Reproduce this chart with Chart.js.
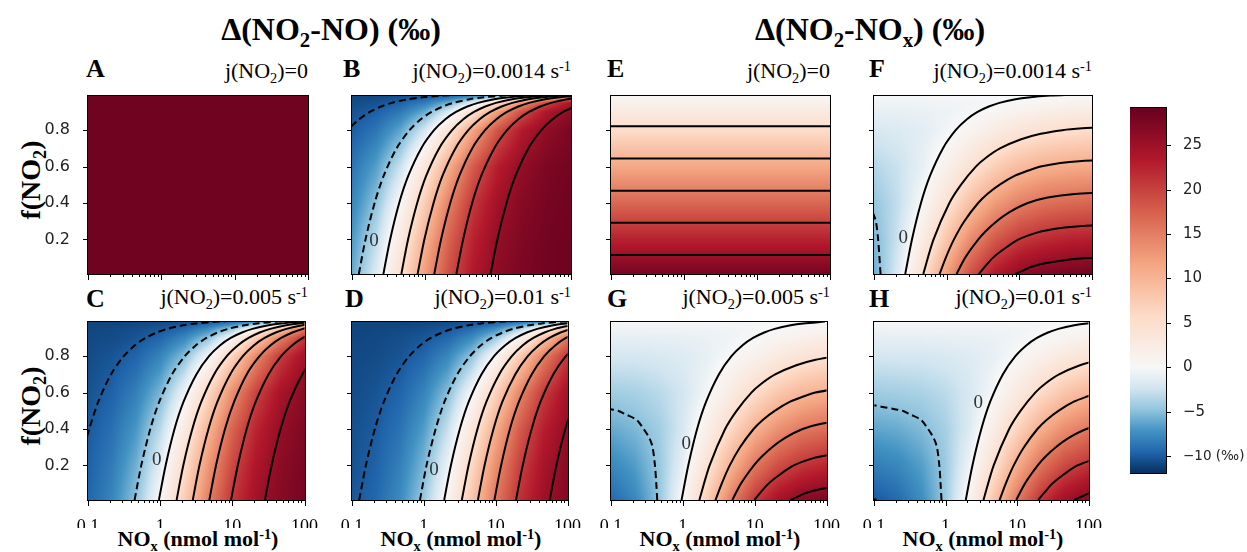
<!DOCTYPE html>
<html>
<head>
<meta charset="utf-8">
<script src="https://cdn.jsdelivr.net/npm/chart.js@4.4.1/dist/chart.umd.min.js"></script>
<style>
  body { margin: 0; background: #fff; }
  #fig { position: relative; width: 1247px; height: 552px; overflow: hidden; font-family: 'Liberation Serif', 'Times New Roman', serif; color: #000; }
  #fig canvas { position: absolute; }
  .t { position: absolute; white-space: nowrap; line-height: 1; }
  .ttl { font-size: 32px; font-weight: bold; transform: translateX(-50%); }
  .let { font-size: 26px; font-weight: bold; }
  .jt { font-size: 22px; }
  .xl { font-size: 22px; font-weight: bold; transform: translateX(-50%); }
  .yl { font-size: 28px; font-weight: bold; transform: translate(-50%, -50%) rotate(-90deg); }
  .sb { font-size: 65%; position: relative; top: 0.32em; }
  .sp { font-size: 65%; position: relative; top: -0.5em; }
</style>
</head>
<body>
<div id="fig">
  <div class="t ttl" style="left:331px;top:13px">Δ(NO<span class="sb">2</span>-NO) (‰)</div>
  <div class="t ttl" style="left:870px;top:13px">Δ(NO<span class="sb">2</span>-NO<span class="sb">x</span>) (‰)</div>

  <div class="t let" style="left:86px;top:56px">A</div>
  <div class="t let" style="left:343px;top:56px">B</div>
  <div class="t let" style="left:607px;top:56px">E</div>
  <div class="t let" style="left:869px;top:56px">F</div>
  <div class="t let" style="left:86px;top:286px">C</div>
  <div class="t let" style="left:345px;top:286px">D</div>
  <div class="t let" style="left:607px;top:286px">G</div>
  <div class="t let" style="left:869px;top:286px">H</div>

  <div class="t jt" style="right:939px;top:60px">j(NO<span class="sb">2</span>)=0</div>
  <div class="t jt" style="right:676px;top:60px">j(NO<span class="sb">2</span>)=0.0014 s<span class="sp">-1</span></div>
  <div class="t jt" style="right:417px;top:60px">j(NO<span class="sb">2</span>)=0</div>
  <div class="t jt" style="right:155px;top:60px">j(NO<span class="sb">2</span>)=0.0014 s<span class="sp">-1</span></div>
  <div class="t jt" style="right:939px;top:286px">j(NO<span class="sb">2</span>)=0.005 s<span class="sp">-1</span></div>
  <div class="t jt" style="right:676px;top:286px">j(NO<span class="sb">2</span>)=0.01 s<span class="sp">-1</span></div>
  <div class="t jt" style="right:417px;top:286px">j(NO<span class="sb">2</span>)=0.005 s<span class="sp">-1</span></div>
  <div class="t jt" style="right:155px;top:286px">j(NO<span class="sb">2</span>)=0.01 s<span class="sp">-1</span></div>

  <div class="t yl" style="left:31px;top:180px">f(NO<span class="sb">2</span>)</div>
  <div class="t yl" style="left:31px;top:406px">f(NO<span class="sb">2</span>)</div>

  <div class="t xl" style="left:198px;top:528px">NO<span class="sb">x</span> (nmol mol<span class="sp">-1</span>)</div>
  <div class="t xl" style="left:461px;top:528px">NO<span class="sb">x</span> (nmol mol<span class="sp">-1</span>)</div>
  <div class="t xl" style="left:720px;top:528px">NO<span class="sb">x</span> (nmol mol<span class="sp">-1</span>)</div>
  <div class="t xl" style="left:983px;top:528px">NO<span class="sb">x</span> (nmol mol<span class="sp">-1</span>)</div>
</div>
<script>
// field grid: columns = NOx (nmol/mol), rows = f(NO2)
const xCols = [0.1, 0.215, 0.464, 1, 2.15, 4.64, 10, 21.5, 46.4, 100];
const fRows = [0.01, 0.2, 0.4, 0.6, 0.8, 0.9, 0.95, 0.99];

// panel A is flat, panel E only changes with f
const valueA = 28.5;
const rowsE = [27.9, 22.6, 16.9, 11.3, 5.6, 2.8, 1.4, 0.3];

const gridB = [
  [-6.1, -1.7, 4.8, 12.4, 19.0, 23.6, 26.3, 27.6, 28.3, 28.6],
  [-6.9, -3.1, 2.8, 10.3, 17.4, 22.6, 25.7, 27.3, 28.2, 28.6],
  [-7.9, -4.8, 0.4, 7.4, 14.9, 20.9, 24.7, 26.8, 27.9, 28.4],
  [-8.8, -6.6, -2.6, 3.5, 11.0, 18.0, 23.0, 25.9, 27.5, 28.2],
  [-9.9, -8.7, -6.3, -2.1, 4.2, 11.8, 18.6, 23.3, 26.1, 27.6],
  [-10.4, -9.8, -8.5, -6.0, -1.6, 4.9, 12.5, 19.1, 23.7, 26.3],
  [-10.7, -10.4, -9.7, -8.3, -5.7, -1.1, 5.6, 13.2, 19.6, 24.0],
  [-10.9, -10.9, -10.7, -10.4, -9.8, -8.5, -6.0, -1.6, 4.9, 12.5]
];
const gridC = [
  [-9.5, -7.9, -4.8, 0.3, 7.3, 14.8, 20.9, 24.7, 26.8, 27.9],
  [-9.8, -8.4, -5.8, -1.3, 5.3, 12.8, 19.4, 23.8, 26.4, 27.7],
  [-10.1, -9.0, -7.0, -3.3, 2.6, 10.0, 17.2, 22.4, 25.6, 27.3],
  [-10.4, -9.7, -8.2, -5.5, -0.8, 6.0, 13.6, 19.9, 24.2, 26.6],
  [-10.7, -10.3, -9.6, -8.0, -5.1, -0.2, 6.7, 14.2, 20.4, 24.5],
  [-10.8, -10.7, -10.3, -9.5, -7.8, -4.8, 0.4, 7.5, 14.9, 20.9],
  [-10.9, -10.8, -10.6, -10.2, -9.4, -7.6, -4.4, 1.0, 8.2, 15.6],
  [-11.0, -11.0, -10.9, -10.8, -10.7, -10.3, -9.5, -7.8, -4.8, 0.4]
];
const gridD = [
  [-10.2, -9.4, -7.6, -4.4, 0.9, 8.1, 15.5, 21.3, 25.0, 27.0],
  [-10.4, -9.7, -8.2, -5.5, -0.8, 6.0, 13.6, 19.9, 24.2, 26.6],
  [-10.5, -10.0, -8.9, -6.7, -2.8, 3.3, 10.8, 17.8, 22.8, 25.8],
  [-10.7, -10.3, -9.6, -8.0, -5.1, -0.2, 6.7, 14.2, 20.4, 24.5],
  [-10.8, -10.7, -10.3, -9.5, -7.8, -4.8, 0.4, 7.5, 14.9, 20.9],
  [-10.9, -10.8, -10.6, -10.2, -9.4, -7.6, -4.4, 1.0, 8.2, 15.6],
  [-11.0, -10.9, -10.8, -10.6, -10.2, -9.2, -7.4, -3.9, 1.7, 9.0],
  [-11.0, -11.0, -11.0, -10.9, -10.8, -10.6, -10.2, -9.4, -7.6, -4.4]
];
const gridF = [
  [-6.0, -1.7, 4.8, 12.2, 18.8, 23.4, 26.0, 27.4, 28.0, 28.3],
  [-5.5, -2.5, 2.2, 8.2, 13.9, 18.1, 20.6, 21.8, 22.6, 22.9],
  [-4.7, -2.9, 0.2, 4.4, 8.9, 12.5, 14.8, 16.1, 16.7, 17.0],
  [-3.5, -2.6, -1.0, 1.4, 4.4, 7.2, 9.2, 10.4, 11.0, 11.3],
  [-2.0, -1.7, -1.3, -0.4, 0.8, 2.4, 3.7, 4.7, 5.2, 5.5],
  [-1.0, -1.0, -0.9, -0.6, -0.2, 0.5, 1.3, 1.9, 2.4, 2.6],
  [-0.5, -0.5, -0.5, -0.4, -0.3, -0.1, 0.3, 0.7, 1.0, 1.2],
  [-0.1, -0.1, -0.1, -0.1, -0.1, -0.1, -0.1, 0.0, 0.0, 0.1]
];
const gridG = [
  [-9.4, -7.8, -4.8, 0.3, 7.2, 14.7, 20.7, 24.5, 26.5, 27.6],
  [-7.8, -6.7, -4.6, -1.0, 4.2, 10.2, 15.5, 19.0, 21.1, 22.2],
  [-6.1, -5.4, -4.2, -2.0, 1.6, 6.0, 10.3, 13.4, 15.4, 16.4],
  [-4.2, -3.9, -3.3, -2.2, -0.3, 2.4, 5.4, 8.0, 9.7, 10.6],
  [-2.1, -2.1, -1.9, -1.6, -1.0, 0.0, 1.3, 2.8, 4.1, 4.9],
  [-1.1, -1.1, -1.0, -1.0, -0.8, -0.5, 0.0, 0.8, 1.5, 2.1],
  [-0.5, -0.5, -0.5, -0.5, -0.5, -0.4, -0.2, 0.1, 0.4, 0.8],
  [-0.1, -0.1, -0.1, -0.1, -0.1, -0.1, -0.1, -0.1, 0.0, 0.0]
];
const gridH = [
  [-10.1, -9.3, -7.5, -4.4, 0.9, 8.0, 15.3, 21.1, 24.8, 26.7],
  [-8.3, -7.8, -6.6, -4.4, -0.6, 4.8, 10.9, 15.9, 19.4, 21.3],
  [-6.3, -6.0, -5.3, -4.0, -1.7, 2.0, 6.5, 10.7, 13.7, 15.5],
  [-4.3, -4.1, -3.8, -3.2, -2.0, -0.1, 2.7, 5.7, 8.2, 9.8],
  [-2.2, -2.1, -2.1, -1.9, -1.6, -1.0, 0.1, 1.5, 3.0, 4.2],
  [-1.1, -1.1, -1.1, -1.0, -0.9, -0.8, -0.4, 0.1, 0.8, 1.6],
  [-0.6, -0.5, -0.5, -0.5, -0.5, -0.5, -0.4, -0.2, 0.1, 0.5],
  [-0.1, -0.1, -0.1, -0.1, -0.1, -0.1, -0.1, -0.1, -0.1, 0.0]
];

// contour lines: [level, [[NOx, f], ...]]
const contB = [
  [-10, [[0.097,0.82],[0.125,0.86],[0.175,0.9],[0.25,0.93],[0.35,0.95],[0.583,0.97],[0.875,0.98],[1.75,0.99],[3.5,0.995],[8.75,0.998]]],
  [-5, [[0.124,0.01],[0.153,0.2],[0.204,0.4],[0.272,0.55],[0.408,0.7],[0.613,0.8],[0.875,0.86],[1.23,0.9],[1.75,0.93],[2.45,0.95],[4.08,0.97],[6.13,0.98],[12.3,0.99],[24.5,0.995],[61,0.998]]],
  [0, [[0.269,0.01],[0.333,0.2],[0.443,0.4],[0.591,0.55],[0.887,0.7],[1.33,0.8],[1.9,0.86],[2.66,0.9],[3.8,0.93],[5.32,0.95],[8.87,0.97],[13.3,0.98],[26.6,0.99],[53.2,0.995],[133,0.998]]],
  [5, [[0.474,0.01],[0.586,0.2],[0.782,0.4],[1.04,0.55],[1.56,0.7],[2.35,0.8],[3.35,0.86],[4.69,0.9],[6.7,0.93],[9.38,0.95],[15.6,0.97],[23.5,0.98],[46.9,0.99],[93.8,0.995],[234,0.998]]],
  [10, [[0.792,0.01],[0.98,0.2],[1.31,0.4],[1.74,0.55],[2.61,0.7],[3.92,0.8],[5.6,0.86],[7.84,0.9],[11.2,0.93],[15.7,0.95],[26.1,0.97],[39.2,0.98],[78.4,0.99],[157,0.995]]],
  [15, [[1.34,0.01],[1.66,0.2],[2.22,0.4],[2.96,0.55],[4.43,0.7],[6.65,0.8],[9.5,0.86],[13.3,0.9],[19,0.93],[26.6,0.95],[44.3,0.97],[66.5,0.98],[133,0.99]]],
  [20, [[2.69,0.01],[3.33,0.2],[4.43,0.4],[5.91,0.55],[8.87,0.7],[13.3,0.8],[19,0.86],[26.6,0.9],[38,0.93],[53.2,0.95],[88.7,0.97],[133,0.98]]],
  [25, [[7.92,0.01],[9.8,0.2],[13.1,0.4],[17.4,0.55],[26.1,0.7],[39.2,0.8],[56,0.86],[78.4,0.9],[112,0.93]]]
];
const contC = [
  [-10, [[0.089,0.3],[0.104,0.4],[0.139,0.55],[0.208,0.7],[0.313,0.8],[0.446,0.86],[0.625,0.9],[0.893,0.93],[1.25,0.95],[2.08,0.97],[3.13,0.98],[6.25,0.99],[12.5,0.995],[31,0.998]]],
  [-5, [[0.442,0.01],[0.547,0.2],[0.729,0.4],[0.972,0.55],[1.46,0.7],[2.19,0.8],[3.13,0.86],[4.38,0.9],[6.25,0.93],[8.75,0.95],[14.6,0.97],[21.9,0.98],[43.8,0.99],[87.5,0.995],[219,0.998]]],
  [0, [[0.96,0.01],[1.19,0.2],[1.58,0.4],[2.11,0.55],[3.17,0.7],[4.75,0.8],[6.79,0.86],[9.5,0.9],[13.6,0.93],[19,0.95],[31.7,0.97],[47.5,0.98],[95,0.99],[190,0.995]]],
  [5, [[1.69,0.01],[2.09,0.2],[2.79,0.4],[3.72,0.55],[5.58,0.7],[8.38,0.8],[12,0.86],[16.8,0.9],[23.9,0.93],[33.5,0.95],[55.8,0.97],[83.8,0.98],[168,0.99]]],
  [10, [[2.83,0.01],[3.5,0.2],[4.67,0.4],[6.22,0.55],[9.33,0.7],[14,0.8],[20,0.86],[28,0.9],[40,0.93],[56,0.95],[93.3,0.97],[140,0.98]]],
  [15, [[4.8,0.01],[5.94,0.2],[7.92,0.4],[10.6,0.55],[15.8,0.7],[23.8,0.8],[33.9,0.86],[47.5,0.9],[67.9,0.93],[95,0.95],[158,0.97]]],
  [20, [[9.6,0.01],[11.9,0.2],[15.8,0.4],[21.1,0.55],[31.7,0.7],[47.5,0.8],[67.9,0.86],[95,0.9],[136,0.93]]],
  [25, [[28.3,0.01],[35,0.2],[46.7,0.4],[62.2,0.55],[93.3,0.7],[140,0.8]]]
];
const contD = [
  [-10, [[0.126,0.01],[0.156,0.2],[0.208,0.4],[0.278,0.55],[0.417,0.7],[0.625,0.8],[0.893,0.86],[1.25,0.9],[1.79,0.93],[2.5,0.95],[4.17,0.97],[6.25,0.98],[12.5,0.99],[25,0.995],[62.5,0.998]]],
  [-5, [[0.884,0.01],[1.09,0.2],[1.46,0.4],[1.94,0.55],[2.92,0.7],[4.38,0.8],[6.25,0.86],[8.75,0.9],[12.5,0.93],[17.5,0.95],[29.2,0.97],[43.8,0.98],[87.5,0.99],[175,0.995]]],
  [0, [[1.92,0.01],[2.38,0.2],[3.17,0.4],[4.22,0.55],[6.33,0.7],[9.5,0.8],[13.6,0.86],[19,0.9],[27.1,0.93],[38,0.95],[63.3,0.97],[95,0.98],[190,0.99]]],
  [5, [[3.38,0.01],[4.19,0.2],[5.58,0.4],[7.44,0.55],[11.2,0.7],[16.8,0.8],[23.9,0.86],[33.5,0.9],[47.9,0.93],[67,0.95],[112,0.97]]],
  [10, [[5.66,0.01],[7,0.2],[9.33,0.4],[12.4,0.55],[18.7,0.7],[28,0.8],[40,0.86],[56,0.9],[80,0.93],[112,0.95]]],
  [15, [[9.6,0.01],[11.9,0.2],[15.8,0.4],[21.1,0.55],[31.7,0.7],[47.5,0.8],[67.9,0.86],[95,0.9],[136,0.93]]],
  [20, [[19.2,0.01],[23.8,0.2],[31.7,0.4],[42.2,0.55],[63.3,0.7],[95,0.8],[136,0.86]]],
  [25, [[56.6,0.01],[70,0.2],[93.3,0.4],[124,0.55]]]
];
const contE = [
  [5, [[0.1,0.822],[100,0.822]]],
  [10, [[0.1,0.645],[100,0.645]]],
  [15, [[0.1,0.468],[100,0.468]]],
  [20, [[0.1,0.291],[100,0.291]]],
  [25, [[0.1,0.115],[100,0.115]]]
];
const contF = [
  [-5, [[0.123,0.01],[0.114,0.2],[0.106,0.3],[0.0957,0.35]]],
  [0, [[0.269,0.01],[0.333,0.2],[0.443,0.4],[0.591,0.55],[0.887,0.7],[1.33,0.8],[1.9,0.86],[2.66,0.9],[3.8,0.93],[5.32,0.95],[8.87,0.97],[13.3,0.98],[26.6,0.99],[53.2,0.995]]],
  [5, [[0.477,0.01],[0.66,0.2],[1.09,0.4],[1.57,0.5],[2.52,0.6],[3.51,0.65],[5.42,0.7],[10.6,0.75],[19.7,0.78],[39.2,0.8],[73.7,0.81],[132,0.815]]],
  [10, [[0.8,0.01],[0.974,0.1],[1.26,0.2],[1.75,0.3],[2.71,0.4],[3.63,0.45],[5.32,0.5],[8.73,0.55],[13.7,0.58],[19.6,0.6],[36.8,0.62],[66.2,0.63],[301,0.64]]],
  [15, [[1.37,0.01],[1.8,0.1],[2.73,0.2],[3.55,0.25],[4.89,0.3],[7.32,0.35],[13.1,0.4],[24.6,0.43],[57.9,0.45],[201,0.46]]],
  [20, [[2.78,0.01],[3.37,0.05],[4.36,0.1],[6.29,0.15],[9.8,0.2],[18.4,0.24],[33.1,0.26],[55.3,0.27],[151,0.28]]],
  [25, [[8.85,0.01],[11.4,0.03],[14.7,0.05],[23.6,0.07],[50,0.09],[120,0.1]]]
];
const contG = [
  [-5, [[0.44,0.01],[0.427,0.1],[0.409,0.2],[0.379,0.3],[0.342,0.35],[0.285,0.4],[0.228,0.45],[0.161,0.48],[0.125,0.5],[0.094,0.51]]],
  [0, [[0.96,0.01],[1.19,0.2],[1.58,0.4],[2.11,0.55],[3.17,0.7],[4.75,0.8],[6.79,0.86],[9.5,0.9],[13.6,0.93],[19,0.95],[31.7,0.97],[47.5,0.98],[95,0.99]]],
  [5, [[1.7,0.01],[2.36,0.2],[3.88,0.4],[5.6,0.5],[9,0.6],[12.5,0.65],[19.3,0.7],[38,0.75],[70.5,0.78],[140,0.8]]],
  [10, [[2.85,0.01],[3.48,0.1],[4.5,0.2],[6.26,0.3],[9.67,0.4],[12.95,0.45],[19,0.5],[31.2,0.55],[48.9,0.58],[70,0.6],[132,0.62]]],
  [15, [[4.89,0.01],[6.44,0.1],[9.75,0.2],[12.7,0.25],[17.5,0.3],[26.2,0.35],[46.7,0.4],[87.7,0.43],[207,0.45]]],
  [20, [[9.92,0.01],[12,0.05],[15.6,0.1],[22.5,0.15],[35,0.2],[65.8,0.24],[118,0.26]]],
  [25, [[31.6,0.01],[40.7,0.03],[52.6,0.05],[84,0.07],[179,0.09]]]
];
const contH = [
  [-10, [[0.108,0.01],[0.092,0.02],[0.08,0.03]]],
  [-5, [[0.879,0.01],[0.853,0.1],[0.819,0.2],[0.759,0.3],[0.683,0.35],[0.57,0.4],[0.456,0.45],[0.322,0.48],[0.25,0.5],[0.188,0.51],[0.1375,0.52],[0.117,0.525],[0.101,0.53]]],
  [0, [[1.92,0.01],[2.38,0.2],[3.17,0.4],[4.22,0.55],[6.33,0.7],[9.5,0.8],[13.6,0.86],[19,0.9],[27.1,0.93],[38,0.95],[63.3,0.97],[95,0.98],[190,0.99]]],
  [5, [[3.4,0.01],[4.72,0.2],[7.77,0.4],[11.2,0.5],[18,0.6],[25,0.65],[38.7,0.7],[76,0.75],[141,0.78]]],
  [10, [[5.71,0.01],[6.96,0.1],[9,0.2],[12.5,0.3],[19.3,0.4],[25.9,0.45],[38,0.5],[62.3,0.55],[97.9,0.58],[140,0.6]]],
  [15, [[9.77,0.01],[12.9,0.1],[19.5,0.2],[25.3,0.25],[34.9,0.3],[52.3,0.35],[93.3,0.4],[175,0.43]]],
  [20, [[19.8,0.01],[24.1,0.05],[31.2,0.1],[44.9,0.15],[70,0.2],[132,0.24]]],
  [25, [[63.1,0.01],[81.4,0.03],[105,0.05]]]
];

// where the "0" contour label sits, [NOx, f]
const zeroLabels = { B: [0.2, 0.19], C: [0.9, 0.23], D: [1.39, 0.177], F: [0.253, 0.209], G: [1.12, 0.32], H: [2.87, 0.545] };

// axes
const xMajor = [0.1, 1, 10, 100];
const xTickLabels = ['0.1', '1', '10', '100'];
const yTicks = [0.2, 0.4, 0.6, 0.8];
const yTickLabels = ['0.2', '0.4', '0.6', '0.8'];
const cbMin = -11.9, cbMax = 29.2;
const cbTicks = [-10, -5, 0, 5, 10, 15, 20, 25];
const cbTickLabels = ['\u221210 (‰)', '\u22125', '0', '5', '10', '15', '20', '25'];

// minor ticks 2..9 inside each decade
const xTickValues = [];
xMajor.forEach((d, k) => {
  xTickValues.push(d);
  if (k < xMajor.length - 1) for (let m = 2; m <= 9; m++) xTickValues.push(d * m);
});

const gridA = fRows.map(() => xCols.map(() => valueA));
const gridE = rowsE.map(v => xCols.map(() => v));

// RdBu_r, centred on 0
const rdbuR = ['#053061', '#2166ac', '#4393c3', '#92c5de', '#d1e5f0', '#f7f7f7', '#fddbc7', '#f4a582', '#d6604d', '#b2182b', '#67001f']
  .map(h => [parseInt(h.slice(1, 3), 16), parseInt(h.slice(3, 5), 16), parseInt(h.slice(5, 7), 16)]);

function colorFor(v) {
  let t = v < 0 ? 0.5 * (v - cbMin) / (0 - cbMin) : 0.5 + 0.5 * v / cbMax;
  t = Math.min(1, Math.max(0, t)) * 10;
  const i = Math.min(9, Math.floor(t)), k = t - i;
  const a = rdbuR[i], b = rdbuR[i + 1];
  return [a[0] + (b[0] - a[0]) * k, a[1] + (b[1] - a[1]) * k, a[2] + (b[2] - a[2]) * k];
}

const colLogs = xCols.map(v => Math.log10(v));
function bracket(arr, v) {
  const n = arr.length - 1;
  if (v <= arr[0]) return [0, 0, 0];
  if (v >= arr[n]) return [n, n, 0];
  let i = 0;
  while (arr[i + 1] < v) i++;
  return [i, i + 1, (v - arr[i]) / (arr[i + 1] - arr[i])];
}
function sample(grid, lx, f) {
  const [c0, c1, tx] = bracket(colLogs, lx);
  const [r0, r1, ty] = bracket(fRows, f);
  const a = grid[r0][c0] * (1 - tx) + grid[r0][c1] * tx;
  const b = grid[r1][c0] * (1 - tx) + grid[r1][c1] * tx;
  return a * (1 - ty) + b * ty;
}

const fields = {};

// paints the field into the plot area, pixel by pixel through the scales
const heatmapPlugin = {
  id: 'heatmap',
  beforeDatasetsDraw(chart) {
    const grid = fields[chart.canvas.id];
    if (!grid) return;
    const a = chart.chartArea;
    const xs = chart.scales.x, ys = chart.scales.y;
    const left = Math.round(a.left), top = Math.round(a.top);
    const w = Math.round(a.right) - left, h = Math.round(a.bottom) - top;
    const img = chart.ctx.createImageData(w, h);
    for (let j = 0; j < h; j++) {
      const f = ys.getValueForPixel(top + j + 0.5);
      for (let i = 0; i < w; i++) {
        const lx = Math.log10(xs.getValueForPixel(left + i + 0.5));
        const c = colorFor(sample(grid, lx, f));
        const o = (j * w + i) * 4;
        img.data[o] = c[0]; img.data[o + 1] = c[1]; img.data[o + 2] = c[2]; img.data[o + 3] = 255;
      }
    }
    chart.ctx.putImageData(img, left, top);
  }
};

const colorbarPlugin = {
  id: 'colorbar',
  beforeDatasetsDraw(chart) {
    const a = chart.chartArea, ys = chart.scales.y, ctx = chart.ctx;
    for (let py = Math.round(a.top); py < Math.round(a.bottom); py++) {
      const c = colorFor(ys.getValueForPixel(py + 0.5));
      ctx.fillStyle = 'rgb(' + c.map(Math.round).join(',') + ')';
      ctx.fillRect(a.left, py, a.right - a.left, 1);
    }
  }
};

// black frame and outward tick marks
const framePlugin = {
  id: 'frame',
  afterDraw(chart) {
    const ctx = chart.ctx, a = chart.chartArea;
    const xs = chart.scales.x, ys = chart.scales.y;
    const l = Math.round(a.left), t = Math.round(a.top), r = Math.round(a.right), b = Math.round(a.bottom);
    ctx.save();
    ctx.strokeStyle = '#000';
    ctx.lineWidth = 1;
    ctx.strokeRect(l - 0.5, t - 0.5, r - l + 1, b - t + 1);
    ctx.beginPath();
    if (xs.options.display !== false) {
      xs.ticks.forEach(tk => {
        const px = Math.round(xs.getPixelForValue(tk.value)) + 0.5;
        const len = xMajor.includes(tk.value) ? 6 : 3;
        ctx.moveTo(px, b);
        ctx.lineTo(px, b + len);
      });
    }
    const onRight = ys.options.position === 'right';
    ys.ticks.forEach(tk => {
      const py = Math.round(ys.getPixelForValue(tk.value)) + 0.5;
      const x0 = onRight ? r : l;
      ctx.moveTo(x0, py);
      ctx.lineTo(onRight ? x0 + 5 : x0 - 5, py);
    });
    ctx.stroke();
    ctx.restore();
  }
};

const zeroLabelPlugin = {
  id: 'zerolab',
  afterDatasetsDraw(chart) {
    const p = zeroLabels[chart.canvas.id.slice(1)];
    if (!p) return;
    const ctx = chart.ctx;
    ctx.save();
    ctx.font = "19px 'Liberation Serif', serif";
    ctx.fillStyle = '#333';
    ctx.textAlign = 'center';
    ctx.textBaseline = 'middle';
    ctx.fillText('0', chart.scales.x.getPixelForValue(p[0]), chart.scales.y.getPixelForValue(p[1]));
    ctx.restore();
  }
};

const panels = [
  { id: 'A', grid: gridA, lines: [], L: 88, T: 86, W: 220, H: 188, first: true, bottom: false },
  { id: 'B', grid: gridB, lines: contB, L: 352, T: 86, W: 219, H: 188, first: false, bottom: false },
  { id: 'E', grid: gridE, lines: contE, L: 611, T: 86, W: 219, H: 188, first: false, bottom: false },
  { id: 'F', grid: gridF, lines: contF, L: 874, T: 86, W: 218, H: 188, first: false, bottom: false },
  { id: 'C', grid: gridC, lines: contC, L: 88, T: 312, W: 220, H: 188, first: true, bottom: true },
  { id: 'D', grid: gridD, lines: contD, L: 352, T: 312, W: 219, H: 188, first: false, bottom: true },
  { id: 'G', grid: gridG, lines: contG, L: 611, T: 312, W: 219, H: 188, first: false, bottom: true },
  { id: 'H', grid: gridH, lines: contH, L: 874, T: 312, W: 218, H: 188, first: false, bottom: true }
];

const fig = document.getElementById('fig');
const YAXIS_W = 60, XAXIS_H = 28, PAD_TOP = 10, PAD_RIGHT = 18;

panels.forEach(p => {
  const cv = document.createElement('canvas');
  cv.id = 'p' + p.id;
  cv.width = p.W + YAXIS_W + PAD_RIGHT;
  cv.height = p.H + PAD_TOP + XAXIS_H;
  cv.style.left = (p.L - YAXIS_W) + 'px';
  cv.style.top = (p.T - PAD_TOP) + 'px';
  fig.appendChild(cv);
  fields[cv.id] = p.grid;

  new Chart(cv, {
    type: 'scatter',
    data: {
      datasets: p.lines.map(([lvl, pts]) => ({
        data: pts.map(q => ({ x: q[0], y: q[1] })),
        showLine: true,
        borderColor: '#000',
        borderWidth: 2,
        borderDash: lvl < 0 ? [7, 4] : [],
        pointRadius: 0,
        tension: 0.3,
        clip: 0
      }))
    },
    options: {
      responsive: false,
      animation: false,
      events: [],
      layout: { padding: { left: 0, top: PAD_TOP, right: PAD_RIGHT, bottom: 0 } },
      elements: { line: { capBezierPoints: false } },
      plugins: { legend: { display: false }, tooltip: { enabled: false } },
      scales: {
        x: {
          type: 'logarithmic', min: 0.1, max: 100,
          grid: { display: false }, border: { display: false },
          afterBuildTicks: s => { s.ticks = xTickValues.map(v => ({ value: v })); },
          afterFit: s => { s.height = XAXIS_H; },
          ticks: {
            autoSkip: false, maxRotation: 0, padding: 8, color: '#000',
            font: { family: "'Liberation Serif', serif", size: 18 },
            callback: (v, i) => {
              const k = xMajor.indexOf(xTickValues[i]);
              return p.bottom && k >= 0 ? xTickLabels[k] : '';
            }
          }
        },
        y: {
          min: 0.01, max: 0.99,
          grid: { display: false }, border: { display: false },
          afterBuildTicks: s => { s.ticks = yTicks.map(v => ({ value: v })); },
          afterFit: s => { s.width = YAXIS_W; },
          ticks: {
            padding: 10, color: '#222',
            font: { family: "'DejaVu Sans', sans-serif", size: 16 },
            callback: (v, i) => p.first ? yTickLabels[i] : ''
          }
        }
      }
    },
    plugins: [heatmapPlugin, zeroLabelPlugin, framePlugin]
  });
});

// colour bar
const cb = document.createElement('canvas');
cb.id = 'cbar';
cb.width = 36 + 90;
cb.height = 376 + 24;
cb.style.left = '1130px';
cb.style.top = (102 - 12) + 'px';
fig.appendChild(cb);

new Chart(cb, {
  type: 'scatter',
  data: { datasets: [] },
  options: {
    responsive: false,
    animation: false,
    events: [],
    layout: { padding: { left: 0, top: 12, right: 0, bottom: 12 } },
    plugins: { legend: { display: false }, tooltip: { enabled: false } },
    scales: {
      x: { display: false, min: 0, max: 1 },
      y: {
        position: 'right', min: cbMin, max: cbMax,
        grid: { display: false }, border: { display: false },
        afterBuildTicks: s => { s.ticks = cbTicks.map(v => ({ value: v })); },
        afterFit: s => { s.width = 90; },
        ticks: {
          padding: 9, color: '#222',
          font: c => ({ family: "'DejaVu Sans', sans-serif", size: c.index === 0 ? 13.5 : 15 }),
          callback: (v, i) => cbTickLabels[i]
        }
      }
    }
  },
  plugins: [colorbarPlugin, framePlugin]
});
</script>
</body>
</html>
